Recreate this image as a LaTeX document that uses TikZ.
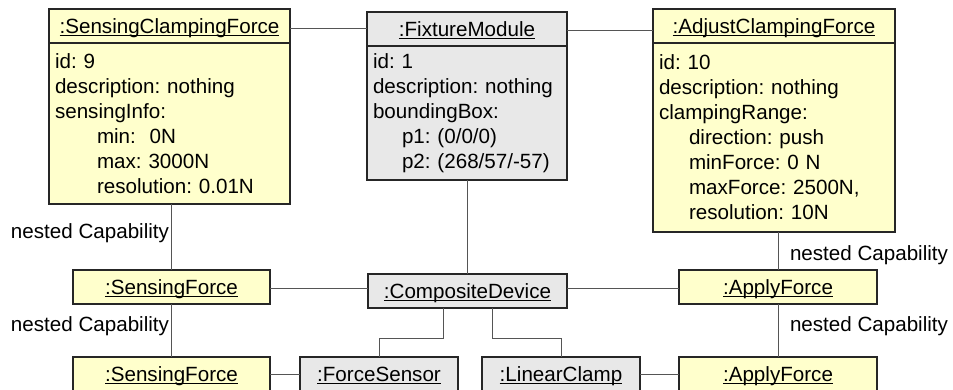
\documentclass[tikz,border=0pt]{standalone}
\usepackage{fontspec}
\setmainfont{Liberation Sans}
\usetikzlibrary{positioning}
\definecolor{objyellow}{HTML}{FFFFCC}
\definecolor{objgray}{HTML}{E8E8E8}
\definecolor{linkgray}{HTML}{555555}
\newcommand{\objname}[1]{$\underline{\smash{\mbox{#1}}}$}
\frenchspacing

\begin{document}
\begin{tikzpicture}[x=1pt, y=-1pt,
    every node/.style={font=\fontsize{20.6}{25}\selectfont\frenchspacing, inner sep=0pt, outer sep=0pt},
    head/.style={draw=black!85, line width=1.1pt, minimum height=34pt, anchor=north west,
      text height=14.8pt, text depth=0pt},
    body/.style={draw=black!85, line width=1.1pt, align=left, inner xsep=6pt},
    link/.style={draw=linkgray, line width=1pt}]
    \clip (0,0) rectangle (953,389);

    % top row
    \node[head, fill=objyellow, minimum width=241pt] (scfH) at (49,9) {\objname{:SensingClampingForce}};
    \node[body, fill=objyellow, text width=229pt, minimum height=161pt, below=0pt of scfH] (scfB)
        {id: 9\\description: nothing\\sensingInfo:\\\hspace*{42pt}min:\ \ 0N\\\hspace*{42pt}max: 3000N\\\hspace*{42pt}resolution: 0.01N};
    \node[head, fill=objgray, minimum width=200pt] (fmH) at (367,12) {\objname{:FixtureModule}};
    \node[body, fill=objgray, text width=188pt, minimum height=134pt, below=0pt of fmH] (fmB)
        {id: 1\\description: nothing\\boundingBox:\\\hspace*{29pt}p1: (0/0/0)\\\hspace*{29pt}p2: (268/57/-57)};
    \node[head, fill=objyellow, minimum width=242pt] (acfH) at (653,9) {\objname{:AdjustClampingForce}};
    \node[body, fill=objyellow, text width=230pt, minimum height=189pt, below=0pt of acfH] (acfB)
        {id: 10\\description: nothing\\clampingRange:\\\hspace*{30pt}direction: push\\\hspace*{30pt}minForce: 0 N\\\hspace*{30pt}maxForce: 2500N,\\\hspace*{30pt}resolution: 10N};

    % middle row
    \node[head, fill=objyellow, minimum width=197pt] (sf1) at (73,270) {\objname{:SensingForce}};
    \node[head, fill=objgray, minimum width=199pt] (cd) at (368,274) {\objname{:CompositeDevice}};
    \node[head, fill=objyellow, minimum width=198pt] (af1) at (679,270) {\objname{:ApplyForce}};

    % bottom row
    \node[head, fill=objyellow, minimum width=197pt] (sf2) at (73,357) {\objname{:SensingForce}};
    \node[head, fill=objgray, minimum width=158pt] (fs) at (300,357) {\objname{:ForceSensor}};
    \node[head, fill=objgray, minimum width=158pt] (lc) at (482,357) {\objname{:LinearClamp}};
    \node[head, fill=objyellow, minimum width=198pt] (af2) at (679,357) {\objname{:ApplyForce}};

    % labels
    \node[anchor=east] (nc1) at (169,233) {nested Capability};
    \node[anchor=east] (nc2) at (169,326) {nested Capability};
    \node[anchor=west] (nc3) at (790,255) {nested Capability};
    \node[anchor=west] (nc4) at (790,326) {nested Capability};

    % links
    \draw[link] ([yshift=-2pt]scfH.east) -- ([yshift=-2pt]scfH.east -| fmH.west);
    \draw[link] ([yshift=-1pt]fmH.east) -- ([yshift=-1pt]fmH.east -| acfH.west);
    \draw[link] (sf1.north) -- (sf1.north |- scfB.south);
    \draw[link] (fmB.south) -- (fmB.south |- cd.north);
    \draw[link] (af1.north) -- (af1.north |- acfB.south);
    \draw[link] ([yshift=-1pt]sf1.east) -- ([yshift=-1pt]sf1.east -| cd.west);
    \draw[link] ([yshift=-1pt]af1.west) -- ([yshift=-1pt]af1.west -| cd.east);
    \draw[link] (sf1.south) -- (sf2.north);
    \draw[link] (af1.south) -- (af2.north);
    \draw[link] (fs.north) -- ++(0,-19) -| ([xshift=-24.5pt]cd.south);
    \draw[link] (lc.north) -- ++(0,-19) -| ([xshift=24.5pt]cd.south);
    \draw[link] (sf2.east) -- (fs.west);
    \draw[link] (lc.east) -- (af2.west);
\end{tikzpicture}
\end{document}
